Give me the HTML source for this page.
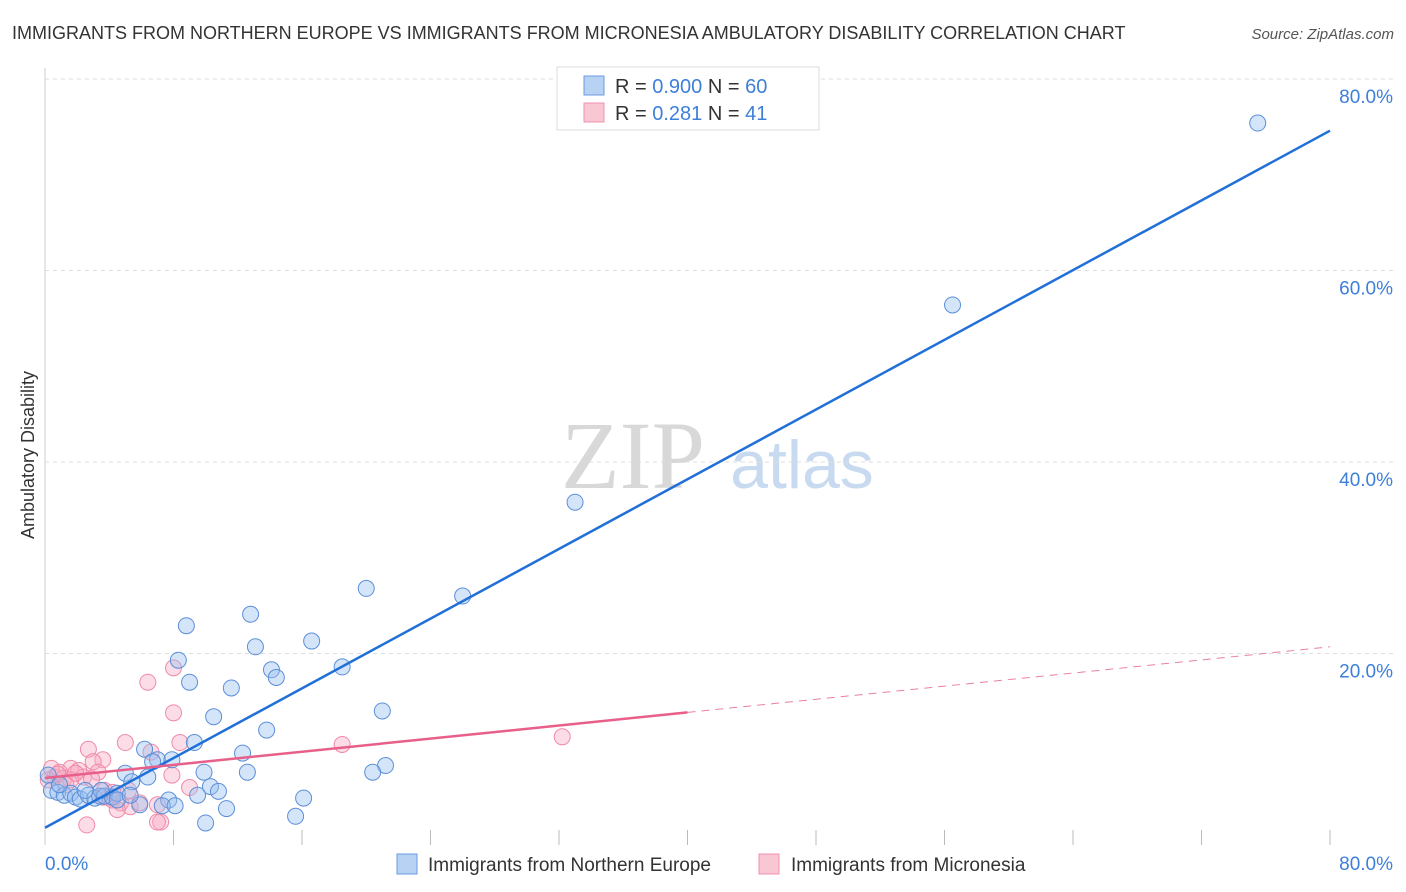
<!DOCTYPE html>
<html><head><meta charset="utf-8"><style>
body{margin:0;background:#fff;font-family:"Liberation Sans",sans-serif;}
svg{display:block}
</style></head><body>
<svg id="c" width="1406" height="892" xmlns="http://www.w3.org/2000/svg">
<text x="12" y="39" font-size="18" fill="#333">IMMIGRANTS FROM NORTHERN EUROPE VS IMMIGRANTS FROM MICRONESIA AMBULATORY DISABILITY CORRELATION CHART</text>
<text x="1394" y="39" font-size="15" fill="#555" font-style="italic" text-anchor="end">Source: ZipAtlas.com</text>
<text x="633" y="488" font-size="96" fill="#d8d8d8" text-anchor="middle" font-family="Liberation Serif,serif">ZIP</text>
<text x="802" y="488" font-size="68" fill="#c8daf0" text-anchor="middle">atlas</text>
<text transform="translate(34,455) rotate(-90)" font-size="18" fill="#333" text-anchor="middle">Ambulatory Disability</text>
<g id="grid"></g><g id="pts"></g><g id="lines"></g>
<g>
<rect x="557" y="67" width="262" height="63" fill="#fff" stroke="#ddd"/>
<rect x="584" y="76" width="20" height="19" fill="#b8d2f4" stroke="#6a9be0"/>
<rect x="584" y="103" width="20" height="19" fill="#f9c6d4" stroke="#ef93ae"/>
<text x="615" y="93" font-size="20" fill="#333">R = <tspan fill="#3d7fd9">0.900</tspan>   N = <tspan fill="#3d7fd9">60</tspan></text>
<text x="615" y="120" font-size="20" fill="#333">R =  <tspan fill="#3d7fd9">0.281</tspan>   N =  <tspan fill="#3d7fd9">41</tspan></text>
</g>
<g>
<rect x="397" y="854" width="20" height="20" fill="#b8d2f4" stroke="#6a9be0"/>
<text x="428" y="871" font-size="19" fill="#333">Immigrants from Northern Europe</text>
<rect x="759" y="854" width="20" height="20" fill="#f9c6d4" stroke="#ef93ae"/>
<text x="791" y="871" font-size="19" fill="#333">Immigrants from Micronesia</text>
</g>
</svg>
<script>
const xTickLabels=["0.0%","80.0%"];
const yTicks=[20,40,60,80];
const blueX=[75.5,56.5,33.0,26.0,20.0,12.8,8.8,16.6,13.1,8.3,18.5,14.1,14.4,9.0,11.6,10.5,21.0,13.8,9.3,6.2,12.3,7.0,7.9,6.7,21.2,20.4,12.6,5.0,9.9,6.4,5.4,10.3,10.8,9.5,16.1,7.7,5.9,7.3,8.1,11.3,10.0,15.6,0.2,0.4,0.8,1.2,1.6,1.9,2.2,2.7,3.1,3.4,3.7,4.2,4.5,3.5,2.5,0.9,4.5,5.3];
const blueY=[75.4,56.4,35.8,26.0,26.8,24.1,22.9,21.3,20.7,19.3,18.6,18.3,17.5,17.0,16.4,13.4,14.0,12.0,10.7,10.0,9.6,8.9,8.9,8.7,8.3,7.6,7.6,7.5,7.6,7.1,6.6,6.1,5.6,5.2,4.9,4.7,4.2,4.1,4.1,3.8,2.3,3.0,7.3,5.7,5.5,5.2,5.4,5.0,4.8,5.2,4.9,5.1,5.1,5.0,5.4,5.7,5.7,6.3,4.7,5.2];
const pinkX=[6.4,8.0,8.0,5.0,8.4,6.6,18.5,32.2,2.7,3.6,3.0,1.6,2.1,0.9,0.6,0.2,1.2,2.4,3.3,1.6,7.9,9.0,3.6,4.0,4.2,4.7,5.3,5.9,7.0,7.2,7.0,2.6,4.5,3.7,0.4,0.8,1.9,2.9,4.2,5.2,1.3];
const pinkY=[17.0,18.5,13.8,10.7,10.7,9.7,10.5,11.3,10.0,8.9,8.7,8.0,7.8,7.6,7.1,6.8,7.0,7.1,7.6,6.8,7.3,6.0,5.0,5.0,4.7,4.4,4.0,4.4,4.2,2.4,2.4,2.1,3.7,5.7,8.0,7.4,7.5,6.9,5.5,5.7,6.3];
const blueFit=[1.8,74.6];
const pinkFit=[7.0,20.7];
const pinkSolidEnd=40;
const NS="http://www.w3.org/2000/svg";
const X=v=>45+v*16.0625, Y=v=>845-v*9.575;
function mk(t,a,p){const e=document.createElementNS(NS,t);for(const k in a)e.setAttribute(k,a[k]);p.appendChild(e);return e;}
const grid=document.getElementById('grid');
const ax=mk('line',{x1:45,y1:68,x2:45,y2:845,stroke:'#ccc'},grid);


yTicks.forEach(t=>{
 const g=mk('line',{x1:45,x2:1395,y1:Y(t),y2:Y(t),stroke:'#ddd','stroke-dasharray':'4,4'},grid);
 
 
 const l=mk('text',{x:1393,y:Y(t)+24,'font-size':19,fill:'#3d7fd9','text-anchor':'end'},grid);l.textContent=t.toFixed(1)+'%';
 
 
});
for(let i=1;i<=10;i++){
 const tk=mk('line',{x1:X(i*8),x2:X(i*8),y1:830,y2:845,stroke:'#bbb'},grid);
 
 
}
const xl0=mk('text',{x:45,y:870,'font-size':19,fill:'#3d7fd9'},grid);xl0.textContent=xTickLabels[0];


const xl1=mk('text',{x:1393,y:870,'font-size':19,fill:'#3d7fd9','text-anchor':'end'},grid);xl1.textContent=xTickLabels[1];


const pts=document.getElementById('pts');
pinkX.forEach((v,i)=>{const c=mk('circle',{cx:X(v),cy:Y(pinkY[i]),r:8,fill:'rgba(248,170,195,0.4)',stroke:'#f08aa8','stroke-width':1},pts);
 
 });
blueX.forEach((v,i)=>{const c=mk('circle',{cx:X(v),cy:Y(blueY[i]),r:8,fill:'rgba(150,190,240,0.4)',stroke:'#5b8fd8','stroke-width':1},pts);
 
 });
const L=document.getElementById('lines');
const b=mk('line',{x1:X(0),y1:Y(blueFit[0]),x2:X(80),y2:Y(blueFit[1]),stroke:'#2070d8','stroke-width':2.5},L);


const py=x=>pinkFit[0]+(pinkFit[1]-pinkFit[0])*x/80;
const p1=mk('line',{x1:X(0),y1:Y(py(0)),x2:X(pinkSolidEnd),y2:Y(py(pinkSolidEnd)),stroke:'#e8608a','stroke-width':2.5},L);


const p2=mk('line',{x1:X(pinkSolidEnd),y1:Y(py(pinkSolidEnd)),x2:X(80),y2:Y(py(80)),stroke:'#e8809f','stroke-width':1,'stroke-dasharray':'8,6'},L);


</script>
</body></html>
